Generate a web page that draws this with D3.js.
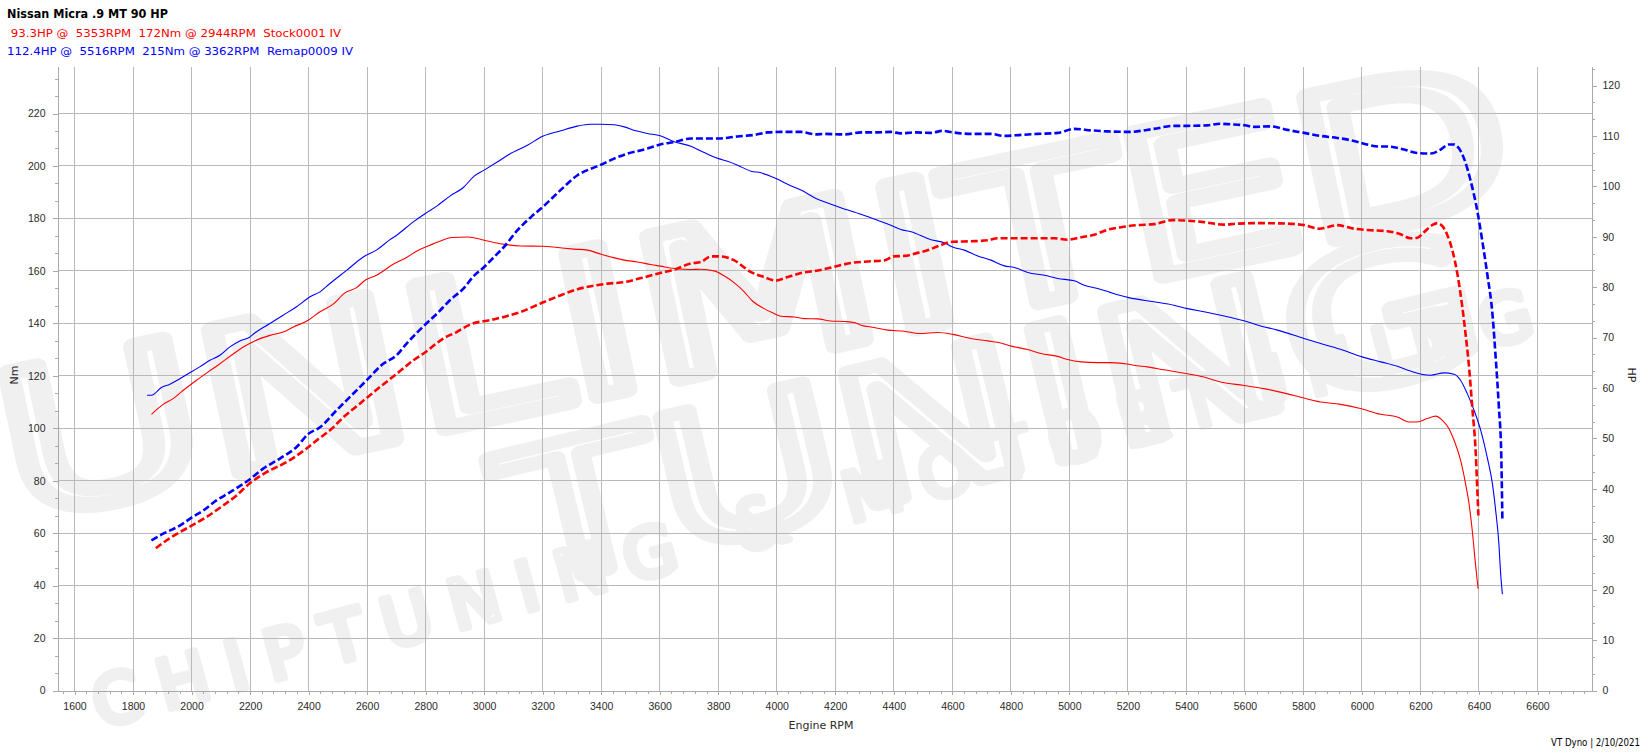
<!DOCTYPE html>
<html>
<head>
<meta charset="utf-8">
<script src="https://cdn.jsdelivr.net/npm/d3@7/dist/d3.min.js"></script>
<style>
  html, body { margin: 0; padding: 0; background: #ffffff; }
  svg { display: block; }
  text { white-space: pre; }
</style>
</head>
<body>
<svg id="chart" width="1648" height="754"></svg>
<script>
// ---------------- DATA ----------------
const chartTitle = "Nissan Micra .9 MT 90 HP";
const stockLegend = " 93.3HP @  5353RPM  172Nm @ 2944RPM  Stock0001 IV";
const remapLegend = "112.4HP @  5516RPM  215Nm @ 3362RPM  Remap0009 IV";
const footerText = "VT Dyno | 2/10/2021";
const xAxisTitle = "Engine RPM";
const leftAxisTitle = "Nm";
const rightAxisTitle = "HP";
const watermarkWords = ["UNLIMITED", "TUNING", "CHIPTUNING & MOTORTUNING"];

const rpmTicks = [1600,1800,2000,2200,2400,2600,2800,3000,3200,3400,3600,3800,4000,4200,4400,4600,4800,5000,5200,5400,5600,5800,6000,6200,6400,6600];
const nmTicks = [0,20,40,60,80,100,120,140,160,180,200,220];
const hpTicks = [0,10,20,30,40,50,60,70,80,90,100,110,120];

// Remap torque (Nm) - solid blue
const remapTorqueRpm = [1848,1863,1897,1926,1960,2000,2028,2063,2097,2131,2165,2197,2216,2268,2313,2359,2405,2439,2473,2530,2587,2632,2678,2701,2758,2799,2838,2883,2929,2966,3000,3046,3085,3148,3202,3262,3319,3362,3400,3444,3479,3519,3558,3602,3650,3707,3752,3801,3832,3866,3912,3946,4001,4037,4083,4134,4174,4219,4288,4345,4390,4424,4459,4527,4573,4601,4641,4687,4732,4778,4812,4858,4915,4960,5017,5051,5097,5142,5203,5289,5357,5403,5460,5517,5600,5654,5711,5802,5859,5927,6001,6064,6121,6166,6203,6235,6280,6315,6337,6360,6383,6406,6428,6446,6457,6468,6474,6480];
const remapTorqueNm  = [112.6,112.6,115.5,116.8,118.9,121.5,123.4,125.9,127.8,131.0,133.3,134.6,136.3,139.9,143.1,146.3,150.1,152.0,155.2,160.2,165.3,167.9,171.9,173.6,178.7,181.9,184.7,188.5,191.8,196.1,198.4,201.6,204.4,207.9,211.4,213.4,215.2,215.9,215.9,215.7,214.9,213.4,212.4,211.5,209.2,207.5,205.1,202.8,201.8,200.3,198.0,197.4,195.0,193.0,190.8,187.6,185.9,184.1,181.6,179.3,177.4,175.8,174.9,171.9,170.7,169.1,167.9,165.7,164.1,161.9,161.3,159.4,158.3,157.1,156.2,154.5,153.3,151.7,149.8,148.2,146.9,145.6,144.4,143.1,140.9,139.0,137.4,134.2,132.3,130.1,127.2,125.3,123.6,121.8,120.6,120.2,121.1,120.6,118.3,113.2,106.9,99.2,89.0,78.8,68.7,56.0,44.6,36.7];

// Stock torque (Nm) - solid red
const stockTorqueRpm = [1863,1903,1937,1972,2017,2057,2097,2136,2177,2216,2268,2313,2348,2399,2439,2484,2524,2564,2593,2632,2689,2735,2775,2815,2849,2889,2944,3000,3034,3074,3125,3202,3251,3308,3353,3400,3433,3479,3524,3570,3602,3650,3707,3741,3786,3820,3855,3889,3917,3957,3986,4014,4060,4094,4140,4185,4231,4265,4288,4333,4379,4436,4487,4550,4601,4664,4721,4766,4802,4858,4903,4960,4994,5040,5097,5142,5203,5220,5266,5323,5403,5460,5517,5597,5665,5768,5859,5927,5995,6064,6121,6161,6189,6223,6252,6275,6297,6315,6337,6354,6366,6377,6389,6397];
const stockTorqueNm  = [105.3,109.1,111.3,114.5,118.3,121.5,124.6,127.8,131.0,133.3,135.4,136.7,138.6,141.2,144.4,147.3,151.6,153.6,156.4,158.3,162.5,165.1,167.9,169.8,171.3,172.7,172.9,171.7,170.8,170.0,169.5,169.4,168.9,168.3,167.9,166.3,165.3,164.1,163.4,162.4,161.8,160.9,160.5,160.6,160.0,158.1,155.4,152.0,148.5,145.6,144.0,142.7,142.4,141.8,141.7,140.9,140.7,140.3,139.3,138.4,137.4,137.0,136.1,136.5,135.8,134.2,133.3,132.5,131.3,130.0,128.5,127.4,126.2,125.3,125.0,125.0,124.4,124.0,123.4,122.3,120.8,119.5,117.6,116.3,115.1,112.5,110.0,109.1,107.5,105.3,104.3,102.4,102.4,103.7,104.6,103.0,99.9,95.4,87.8,78.9,71.2,61.0,47.1,38.8];

// Remap power (HP) - dashed blue
const remapPowerRpm = [1863,1903,1960,2000,2040,2085,2131,2197,2245,2302,2359,2399,2439,2496,2553,2598,2655,2701,2735,2799,2838,2883,2929,2966,3000,3034,3068,3114,3160,3202,3262,3319,3365,3400,3444,3490,3547,3602,3650,3707,3801,3866,3923,3969,4014,4083,4134,4162,4231,4288,4345,4390,4424,4470,4527,4567,4601,4664,4732,4778,4835,4892,4960,5017,5074,5131,5203,5289,5357,5403,5471,5516,5551,5600,5631,5688,5745,5802,5859,5916,5973,6018,6058,6087,6144,6189,6235,6269,6297,6315,6332,6349,6371,6394,6411,6428,6446,6457,6468,6476,6480];
const remapPowerHp  = [29.8,31.1,32.7,34.3,35.7,37.7,39.3,41.8,44.0,46.0,48.3,50.9,52.2,55.6,58.9,61.5,64.8,66.5,68.8,72.6,74.7,77.4,79.7,82.3,84.0,86.0,88.0,91.3,93.9,96.0,99.3,102.2,103.5,104.3,105.5,106.5,107.3,108.3,108.8,109.5,109.5,109.9,110.2,110.7,110.8,110.8,110.3,110.4,110.3,110.7,110.7,110.8,110.5,110.7,110.6,111.0,110.7,110.4,110.4,110.0,110.2,110.4,110.6,111.4,111.1,110.9,110.8,111.4,112.0,112.0,112.1,112.4,112.3,112.1,111.8,111.9,111.2,110.6,110.0,109.6,109.0,108.3,107.9,107.9,107.3,106.6,106.5,107.3,108.3,108.3,107.5,105.5,101.2,95.2,89.3,82.7,74.7,66.1,56.2,47.0,33.7];

// Stock power (HP) - dashed red
const stockPowerRpm = [1878,1915,1960,2000,2051,2108,2154,2197,2256,2325,2393,2427,2479,2519,2575,2644,2701,2758,2799,2860,2906,2952,3023,3074,3125,3202,3262,3319,3365,3422,3479,3536,3602,3650,3707,3741,3775,3809,3855,3912,3957,3997,4037,4083,4140,4200,4254,4311,4368,4400,4436,4481,4515,4550,4601,4664,4721,4755,4846,4949,4994,5040,5085,5131,5177,5232,5289,5353,5403,5460,5528,5574,5654,5745,5802,5853,5916,5973,6030,6087,6132,6166,6189,6212,6240,6257,6275,6292,6309,6326,6343,6354,6366,6377,6389,6394,6398];
const stockPowerHp  = [28.2,29.8,31.4,32.7,34.4,36.7,38.7,41.0,43.3,45.3,48.0,49.6,51.9,54.2,56.9,60.2,62.8,65.5,67.1,69.8,71.1,72.6,73.5,74.2,75.1,77.0,78.4,79.6,80.2,80.7,81.0,81.8,82.8,83.5,84.7,85.0,86.1,86.1,85.3,83.0,82.0,81.3,82.0,82.8,83.3,84.1,84.8,85.1,85.3,86.1,86.2,86.8,87.3,88.1,89.0,89.1,89.3,89.7,89.7,89.7,89.4,89.9,90.4,91.4,91.9,92.3,92.5,93.3,93.2,92.9,92.4,92.6,92.7,92.6,92.3,91.6,92.3,91.6,91.3,91.1,90.5,89.7,89.8,90.9,92.3,92.7,92.1,90.3,87.3,82.7,76.1,70.8,64.2,56.2,47.0,40.3,34.7];

// ---------------- LAYOUT ----------------
const svg = d3.select("#chart");
const plotLeft = 57.5, plotRight = 1591.5, plotTop = 66.5, plotBottom = 690.5;

const x = d3.scaleLinear().domain([1600, 6600]).range([74.5, 1537.5]);
x.domain([x.invert(plotLeft), x.invert(plotRight)]).range([plotLeft, plotRight]);
const yL = d3.scaleLinear().domain([0, 220]).range([plotBottom, 113.5]);
yL.domain([0, yL.invert(plotTop)]).range([plotBottom, plotTop]);
const yR = d3.scaleLinear().domain([0, 120]).range([plotBottom, 85.5]);
yR.domain([0, yR.invert(plotTop)]).range([plotBottom, plotTop]);

const gridColor = "#b9b9b9";
const axisColor = "#a9a9a9";
const labelColor = "#2a2a2a";

// ---------------- WATERMARK (faint, kept inside the canvas) ----------------
const wm = svg.append("g")
  .attr("fill", "none")
  .attr("stroke", "#f0f0f0")
  .attr("stroke-linejoin", "round")
  .attr("font-family", "DejaVu Sans");
const wmSpecs = [
  { tx: 15,  ty: 520, rot: -12,   size: 200, sw: 16, len: 1540, adj: "spacingAndGlyphs" },
  { tx: 520, ty: 590, rot: -13.5, size: 185, sw: 14, len: 1000, adj: "spacingAndGlyphs" },
  { tx: 100, ty: 728, rot: -15.3, size: 68,  sw: 7,  len: 1490, adj: "spacing" }
];
wmSpecs.forEach((s, i) => {
  wm.append("text")
    .attr("transform", `translate(${s.tx},${s.ty}) rotate(${s.rot})`)
    .attr("font-size", s.size).attr("stroke-width", s.sw)
    .attr("textLength", s.len).attr("lengthAdjust", s.adj)
    .text(watermarkWords[i]);
});

// ---------------- GRID ----------------
const grid = svg.append("g").attr("stroke", gridColor).attr("stroke-width", 1).attr("shape-rendering", "crispEdges");
grid.selectAll("line.v").data(rpmTicks).enter().append("line")
  .attr("x1", d => x(d)).attr("x2", d => x(d))
  .attr("y1", plotTop).attr("y2", plotBottom);
grid.selectAll("line.h").data(nmTicks.filter(d => d > 0)).enter().append("line")
  .attr("x1", plotLeft).attr("x2", plotRight)
  .attr("y1", d => yL(d)).attr("y2", d => yL(d));

// ---------------- CURVES ----------------
function zip(a, b) { return a.map((v, i) => [v, b[i]]); }
const lineL = d3.line().x(d => x(d[0])).y(d => yL(d[1])).curve(d3.curveMonotoneX);
const lineR = d3.line().x(d => x(d[0])).y(d => yR(d[1])).curve(d3.curveMonotoneX);

svg.append("path").datum(zip(stockTorqueRpm, stockTorqueNm))
  .attr("d", lineL).attr("fill", "none").attr("stroke", "#ff0000").attr("stroke-width", 1.1);
svg.append("path").datum(zip(remapTorqueRpm, remapTorqueNm))
  .attr("d", lineL).attr("fill", "none").attr("stroke", "#0000ff").attr("stroke-width", 1.1);
svg.append("path").datum(zip(stockPowerRpm, stockPowerHp))
  .attr("d", lineR).attr("fill", "none").attr("stroke", "#ff0000").attr("stroke-width", 2.6)
  .attr("stroke-dasharray", "7,3");
svg.append("path").datum(zip(remapPowerRpm, remapPowerHp))
  .attr("d", lineR).attr("fill", "none").attr("stroke", "#0000ff").attr("stroke-width", 2.6)
  .attr("stroke-dasharray", "7,3");

// ---------------- AXES ----------------
function styleAxis(g) {
  g.selectAll("path.domain").attr("stroke", axisColor).attr("shape-rendering", "crispEdges");
  g.selectAll(".tick line").attr("stroke", axisColor).attr("shape-rendering", "crispEdges");
  g.selectAll(".tick text").attr("fill", labelColor);
  g.attr("font-family", "Liberation Sans, Arial, sans-serif").attr("font-size", 10.5);
}
function dropLabels(g) { g.selectAll(".tick text").remove(); }

const rpmMinor = d3.range(1560, 6785, 40).filter(d => d % 200 !== 0);
const nmMinor = d3.range(0, 238, 20 / 3).filter((d, i) => i % 3 !== 0);
const hpMinor = d3.range(0, 124, 10 / 3).filter((d, i) => i % 3 !== 0);

// minor ticks (no labels)
svg.append("g").attr("transform", `translate(0,${plotBottom})`)
  .call(d3.axisBottom(x).tickValues(rpmMinor).tickSize(3).tickSizeOuter(0))
  .call(styleAxis).call(dropLabels);
svg.append("g").attr("transform", `translate(${plotLeft},0)`)
  .call(d3.axisLeft(yL).tickValues(nmMinor).tickSize(3).tickSizeOuter(0))
  .call(styleAxis).call(dropLabels);
svg.append("g").attr("transform", `translate(${plotRight},0)`)
  .call(d3.axisRight(yR).tickValues(hpMinor).tickSize(3).tickSizeOuter(0))
  .call(styleAxis).call(dropLabels);

// major ticks + labels
svg.append("g").attr("transform", `translate(0,${plotBottom})`)
  .call(d3.axisBottom(x).tickValues(rpmTicks).tickSize(4).tickPadding(8).tickSizeOuter(0).tickFormat(d3.format("d")))
  .call(styleAxis);
svg.append("g").attr("transform", `translate(${plotLeft},0)`)
  .call(d3.axisLeft(yL).tickValues(nmTicks).tickSize(5).tickPadding(7).tickSizeOuter(0).tickFormat(d3.format("d")))
  .call(styleAxis);
svg.append("g").attr("transform", `translate(${plotRight},0)`)
  .call(d3.axisRight(yR).tickValues(hpTicks).tickSize(5).tickPadding(6).tickSizeOuter(0).tickFormat(d3.format("d")))
  .call(styleAxis);

// ---------------- TEXTS ----------------
svg.append("text").attr("x", 7).attr("y", 18)
  .attr("font-family", "DejaVu Sans").attr("font-weight", "bold").attr("font-size", 11.5)
  .attr("fill", "#000").attr("textLength", 161).attr("lengthAdjust", "spacingAndGlyphs")
  .text(chartTitle);
svg.append("text").attr("x", 7).attr("y", 36.5)
  .attr("font-family", "DejaVu Sans").attr("font-size", 11)
  .attr("fill", "#ff0000").attr("textLength", 334).attr("lengthAdjust", "spacingAndGlyphs")
  .text(stockLegend);
svg.append("text").attr("x", 7).attr("y", 55)
  .attr("font-family", "DejaVu Sans").attr("font-size", 11)
  .attr("fill", "#0000ff").attr("textLength", 346).attr("lengthAdjust", "spacingAndGlyphs")
  .text(remapLegend);

svg.append("text").attr("x", 821).attr("y", 728.5).attr("text-anchor", "middle")
  .attr("font-family", "DejaVu Sans").attr("font-size", 11).attr("fill", labelColor)
  .text(xAxisTitle);
svg.append("text").attr("transform", "translate(18,375) rotate(-90)").attr("text-anchor", "middle")
  .attr("font-family", "DejaVu Sans").attr("font-size", 11).attr("fill", labelColor)
  .text(leftAxisTitle);
svg.append("text").attr("transform", "translate(1628,375) rotate(90)").attr("text-anchor", "middle")
  .attr("font-family", "DejaVu Sans").attr("font-size", 11).attr("fill", labelColor)
  .text(rightAxisTitle);
svg.append("text").attr("x", 1640).attr("y", 745.5).attr("text-anchor", "end")
  .attr("font-family", "DejaVu Sans").attr("font-size", 10).attr("fill", "#000")
  .attr("textLength", 89).attr("lengthAdjust", "spacingAndGlyphs")
  .text(footerText);
</script>
</body>
</html>
